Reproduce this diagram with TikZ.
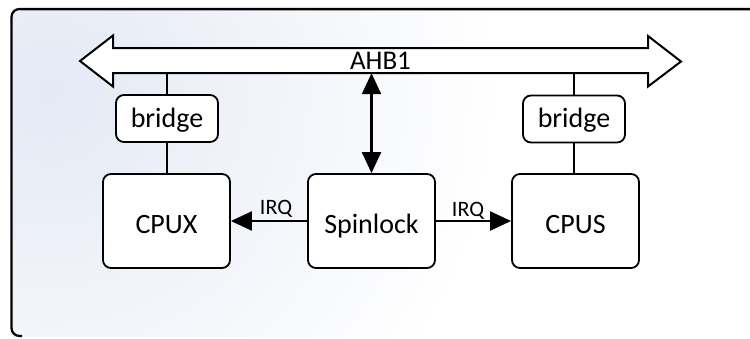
\documentclass[tikz,border=0pt]{standalone}
\usepackage{fontspec}
\setmainfont{Carlito}
\usetikzlibrary{arrows.meta}
\definecolor{bgblue}{RGB}{228,233,244}
\begin{document}
\begin{tikzpicture}[x=1pt,y=-1pt,
  box/.style={draw, fill=white, line width=1.8pt, rounded corners=8pt, minimum width=127pt, minimum height=94pt, inner sep=0pt, font=\fontsize{28}{32}\selectfont, text height=24pt, text depth=0pt},
  bridgebox/.style={draw, fill=white, line width=1.8pt, rounded corners=8pt, minimum width=102pt, minimum height=47pt, inner sep=0pt, font=\fontsize{28}{32}\selectfont, text height=17pt, text depth=0pt},
  conn/.style={line width=2pt},
  tri/.tip={Triangle[length=21pt,width=19pt]},
  arr/.style={line width=2.2pt, -tri},
  lbl/.style={font=\fontsize{22}{26}\selectfont, inner sep=0pt, anchor=base}]
\useasboundingbox (0,0) rectangle (750,338);
% background
\begin{scope}
  \clip (11.5,9) rectangle (750,336);
  \fill[white] (0,0) rectangle (750,338);
  \shade[inner color=bgblue, outer color=white] (50,90) circle (450pt);
\end{scope}
% frame
\draw[gray!55, line width=1pt] (20,10.8) -- (750,10.8);
\draw[line width=2.2pt, rounded corners=8pt] (22,336) -- (11.5,336) -- (11.5,9) -- (752,9);
% bus
\draw[line width=2pt, fill=white, line join=miter] (80,61) -- (113,35.5) -- (113,48) -- (648,48) -- (648,36) -- (681,61.5) -- (648,86.5) -- (648,73) -- (113,73) -- (113,86.5) -- cycle;
\node[minimum width=535pt, minimum height=25pt, inner sep=0pt, font=\fontsize{27}{32}\selectfont, text height=18pt, text depth=0pt] (bus) at (380.5,60.5) {AHB1};
% nodes
\node[bridgebox] (bl) at (167,118.5) {bridge};
\node[bridgebox] (br) at (574,119) {bridge};
\node[box] (cpux) at (166.5,221) {CPUX};
\node[box] (spin) at (371.5,221) {Spinlock};
\node[box] (cpus) at (575.5,221) {CPUS};
% connectors
\draw[conn] (bl.north) -- (bl.north |- bus.south);
\draw[conn] (bl.south) -- (bl.south |- cpux.north);
\draw[conn] (br.north) -- (br.north |- bus.south);
\draw[conn] (br.south) -- (br.south |- cpus.north);
\draw[line width=2.2pt, tri-tri] (bus.south -| spin.north) -- (spin.north);
\draw[arr] (spin.west) -- (cpux.east);
\draw[arr] (spin.east) -- (cpus.west);
% labels
\node[lbl] (irql) at (276,214) {IRQ};
\node[lbl] (irqr) at (468,216.5) {IRQ};
\end{tikzpicture}
\end{document}
